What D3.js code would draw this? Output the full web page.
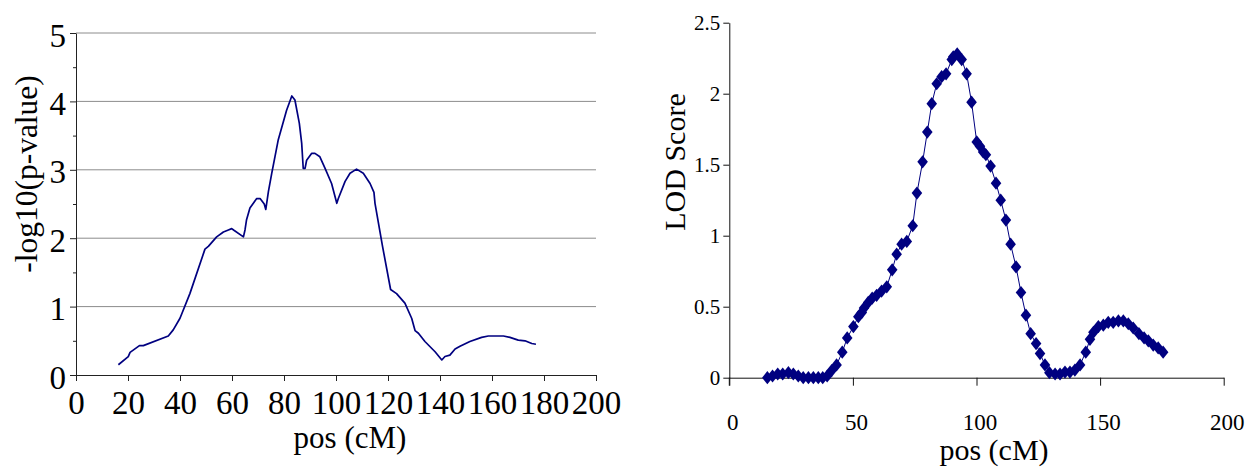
<!DOCTYPE html>
<html>
<head>
<meta charset="utf-8">
<script src="https://cdn.jsdelivr.net/npm/d3@7"></script>
<style>
  body { margin: 0; background: #fff; }
  svg { display: block; font-family: "Liberation Serif", "Times New Roman", serif; }
</style>
</head>
<body>
<svg id="chart" width="1250" height="468"></svg>
<script>
// left panel: -log10(p-value) along the map
const pvalPos = [16.3, 20.1, 20.8, 24.4, 25.9, 35.5, 37.4, 40, 43.8, 49.6, 50.9, 54.1, 56.7, 58.6, 59.9, 60.6,
  64.4, 65.0, 65.6, 66.9, 69.5, 70.8, 72.4, 73.0, 74.0, 75.3, 77.8, 81.0, 83.0, 84.2, 85.9, 86.8, 87.4, 88.1,
  88.7, 90.6, 91.9, 93.8, 95.8, 98.3, 100.3, 100.9, 103.5, 105.4, 107.9, 110.5, 113.1, 114.6, 115.0, 117.9,
  121.0, 123.3, 126.5, 129.1, 130.4, 131.7, 134.2, 138.1, 140.7, 141.9, 143.8, 145.8, 147.7, 151.5, 156.0,
  158.6, 164.4, 166.9, 170.1, 172.7, 175.3, 176.9];
const pvalVal = [0.15, 0.27, 0.33, 0.43, 0.43, 0.57, 0.66, 0.83, 1.19, 1.84, 1.88, 2.02, 2.09, 2.12, 2.14, 2.12,
  2.02, 2.12, 2.27, 2.44, 2.58, 2.58, 2.50, 2.42, 2.68, 2.95, 3.44, 3.87, 4.08, 4.02, 3.68, 3.39, 3.02, 3.02,
  3.14, 3.24, 3.24, 3.19, 3.02, 2.80, 2.51, 2.58, 2.83, 2.95, 3.01, 2.95, 2.80, 2.67, 2.51, 1.88,
  1.25, 1.19, 1.05, 0.83, 0.65, 0.61, 0.49, 0.34, 0.22, 0.27, 0.29, 0.38, 0.42, 0.49, 0.55,
  0.57, 0.57, 0.55, 0.51, 0.50, 0.46, 0.45];
const leftXTicks = [0, 20, 40, 60, 80, 100, 120, 140, 160, 180, 200];
const leftYTicks = [0, 1, 2, 3, 4, 5];
const leftYMinor = [0.5, 1.5, 2.5, 3.5, 4.5];

// right panel: LOD score
const lodPos = [15.4, 17.5, 19.6, 21.6, 23.9, 25.9, 27.9, 29.9, 32, 34, 36, 37.8, 39.6, 41.4, 43.4, 45.7, 47.7,
  50.2, 52.2, 53.6, 54.5, 56.2, 57.8, 59.6, 61.6, 63.7, 65.9, 67.7, 69.7, 71.8, 74.2, 75.9, 78.2, 80.1, 81.9,
  83.9, 85.9, 87.7, 90.0, 90.6, 92.2, 94.0, 96.0, 98.0, 100.1, 101.4, 102.7, 103.8, 105.7, 107.9, 109.8, 111.9,
  113.8, 116.0, 118.0, 120.0, 121.9, 124.1, 125.7, 127.7, 129.5, 131.8, 133.8, 135.8, 137.8, 139.8, 141.9,
  144.2, 145.9, 147.3, 149.3, 151.3, 153.3, 155.3, 157.4, 159.4, 161.4, 163.4, 165.7, 167.8, 169.5, 171.5,
  173.5, 175.5];
const lodVal = [0, 0.012, 0.026, 0.026, 0.035, 0.026, 0.012, 0, 0, 0, 0, 0, 0.012, 0.05, 0.09, 0.18, 0.28,
  0.36, 0.43, 0.46, 0.49, 0.53, 0.56, 0.58, 0.61, 0.64, 0.76, 0.87, 0.94, 0.96, 1.07, 1.30, 1.52, 1.73, 1.93,
  2.07, 2.12, 2.14, 2.24, 2.26, 2.28, 2.24, 2.14, 1.94, 1.66, 1.63, 1.59, 1.57, 1.49, 1.37, 1.25, 1.11,
  0.94, 0.78, 0.60, 0.44, 0.31, 0.24, 0.17, 0.09, 0.035, 0.026, 0.026, 0.04, 0.04, 0.054, 0.09,
  0.18, 0.27, 0.32, 0.36, 0.37, 0.39, 0.39, 0.40, 0.40, 0.38, 0.35, 0.31, 0.28, 0.26, 0.23,
  0.21, 0.18];
const rightXTicks = [0, 50, 100, 150, 200];
const rightYTicks = [0, 0.5, 1, 1.5, 2, 2.5];

const navy = '#000080';
const svg = d3.select('#chart');
svg.append('rect').attr('width', 1250).attr('height', 468).attr('fill', '#fff');

// ---------- left chart ----------
const lx = d3.scaleLinear().domain([0, 200]).range([76, 596]);
const ly = d3.scaleLinear().domain([0, 5]).range([375, 33]);

const left = svg.append('g');

left.selectAll('line.grid')
  .data(leftYTicks.slice(1))
  .enter()
  .append('line')
  .attr('class', 'grid')
  .attr('x1', lx(0)).attr('x2', lx(200))
  .attr('y1', d => ly(d)).attr('y2', d => ly(d))
  .attr('stroke', '#8c8c8c')
  .attr('stroke-width', 1);

left.append('g')
  .attr('transform', 'translate(0,' + ly(0) + ')')
  .call(d3.axisBottom(lx).tickValues(leftXTicks).tickSize(6).tickSizeOuter(0).tickFormat(d3.format('d')))
  .call(g => g.select('.domain').attr('stroke', '#222'))
  .call(g => g.selectAll('.tick line').attr('stroke', '#222'))
  .call(g => g.selectAll('.tick text').attr('font-size', 33).attr('font-family', 'Liberation Serif')
    .attr('fill', '#000').attr('dy', null).attr('y', 39));

left.append('g')
  .attr('transform', 'translate(' + lx(0) + ',0)')
  .call(d3.axisLeft(ly).tickValues(leftYMinor).tickSize(3).tickSizeOuter(0).tickFormat(''))
  .call(g => g.select('.domain').remove())
  .call(g => g.selectAll('.tick line').attr('stroke', '#222'));

left.append('g')
  .attr('transform', 'translate(' + lx(0) + ',0)')
  .call(d3.axisLeft(ly).tickValues(leftYTicks).tickSize(6).tickSizeOuter(0).tickFormat(d3.format('d')))
  .call(g => g.select('.domain').attr('stroke', '#222'))
  .call(g => g.selectAll('.tick text').attr('font-size', 33).attr('font-family', 'Liberation Serif')
    .attr('fill', '#000').attr('dy', null).attr('y', 13).attr('x', -10))
  .call(g => g.selectAll('.tick line').attr('stroke', '#222'));

const pvalLine = d3.line()
  .x(i => lx(pvalPos[i]))
  .y(i => ly(pvalVal[i]));

left.append('path')
  .attr('d', pvalLine(d3.range(pvalPos.length)))
  .attr('fill', 'none')
  .attr('stroke', navy)
  .attr('stroke-width', 1.7)
  .attr('stroke-linejoin', 'round');

left.append('text')
  .attr('x', 350).attr('y', 448)
  .attr('text-anchor', 'middle')
  .attr('font-size', 31)
  .text('pos (cM)');

left.append('text')
  .attr('transform', 'translate(37,174) rotate(-90)')
  .attr('text-anchor', 'middle')
  .attr('font-size', 31.5)
  .text('-log10(p-value)');

// ---------- right chart ----------
const rx = d3.scaleLinear().domain([0, 200]).range([729.3, 1223.7]);
const ry = d3.scaleLinear().domain([0, 2.5]).range([377.7, 22.7]);

const right = svg.append('g');

right.append('g')
  .attr('transform', 'translate(0,' + ry(0) + ')')
  .call(d3.axisBottom(rx).tickValues(rightXTicks).tickSize(8).tickSizeOuter(0).tickFormat(d3.format('d')))
  .call(g => g.select('.domain').attr('stroke', '#111'))
  .call(g => g.selectAll('.tick line').attr('stroke', '#111'))
  .call(g => g.selectAll('.tick text').attr('font-size', 23).attr('font-family', 'Liberation Serif')
    .attr('fill', '#000').attr('dy', null).attr('y', 52).attr('x', 3));

right.append('g')
  .attr('transform', 'translate(' + rx(0) + ',0)')
  .call(d3.axisLeft(ry).tickValues(rightYTicks).tickSize(6).tickSizeOuter(0).tickFormat(d3.format('~g')))
  .call(g => g.select('.domain').attr('stroke', '#111'))
  .call(g => g.selectAll('.tick line').attr('stroke', '#111'))
  .call(g => g.selectAll('.tick text').attr('font-size', 21).attr('font-family', 'Liberation Serif')
    .attr('fill', '#000').attr('dy', null).attr('y', 7).attr('x', -9));

// the y axis line continues down through the x tick band
right.append('line')
  .attr('x1', rx(0)).attr('x2', rx(0))
  .attr('y1', ry(0)).attr('y2', ry(0) + 8)
  .attr('stroke', '#111');

const lodLine = d3.line()
  .x(i => rx(lodPos[i]))
  .y(i => ry(lodVal[i]));

right.append('path')
  .attr('d', lodLine(d3.range(lodPos.length)))
  .attr('fill', 'none')
  .attr('stroke', navy)
  .attr('stroke-width', 1);

const diamond = d3.symbol().type(d3.symbolSquare).size(56);
right.selectAll('path.mark')
  .data(d3.range(lodPos.length))
  .enter()
  .append('path')
  .attr('class', 'mark')
  .attr('d', diamond)
  .attr('transform', i => 'translate(' + rx(lodPos[i]) + ',' + ry(lodVal[i]) + ') scale(1,1.25) rotate(45)')
  .attr('fill', navy);

right.append('text')
  .attr('x', 994).attr('y', 460)
  .attr('text-anchor', 'middle')
  .attr('font-size', 30)
  .text('pos (cM)');

right.append('text')
  .attr('transform', 'translate(685,162) rotate(-90)')
  .attr('text-anchor', 'middle')
  .attr('font-size', 30)
  .text('LOD Score');
</script>
</body>
</html>
